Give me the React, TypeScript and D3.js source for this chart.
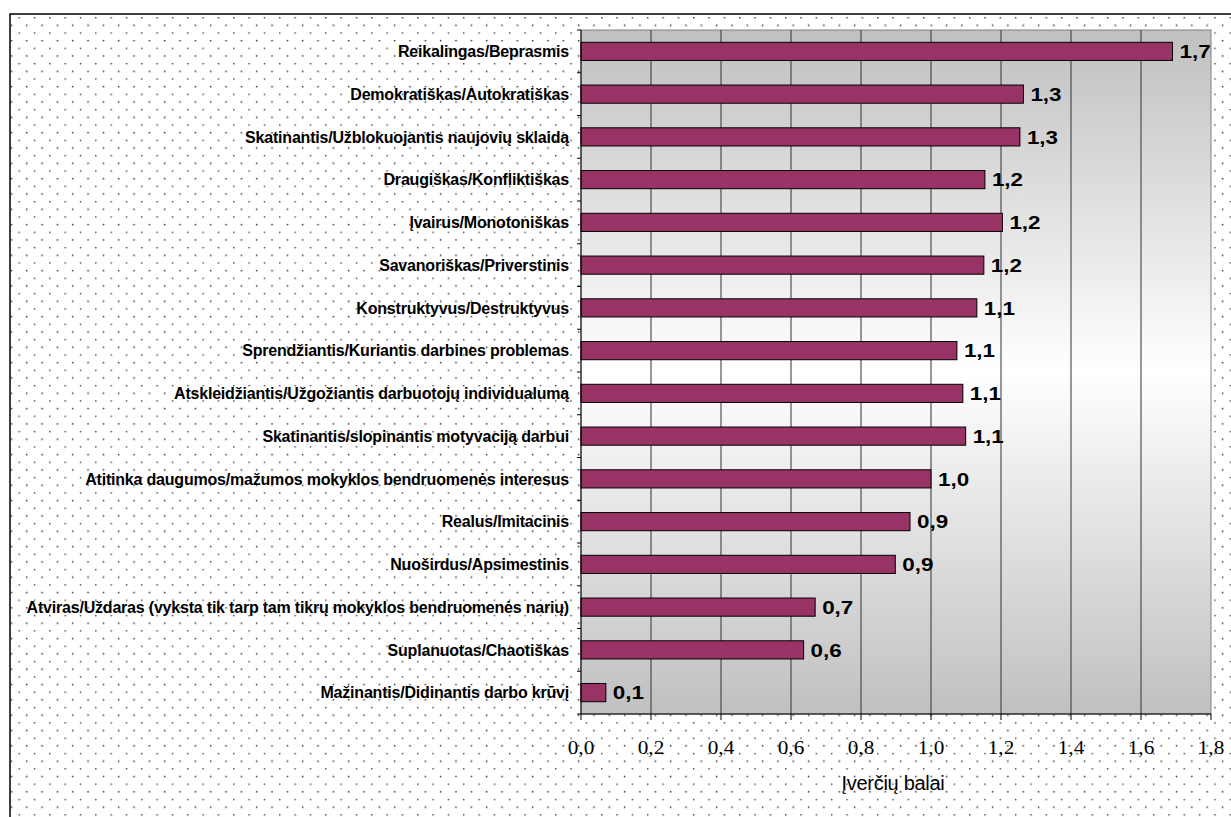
import React from "react";
import * as d3 from "d3";

const categories = [
  "Reikalingas/Beprasmis",
  "Demokratiškas/Autokratiškas",
  "Skatinantis/Užblokuojantis naujovių sklaidą",
  "Draugiškas/Konfliktiškas",
  "Įvairus/Monotoniškas",
  "Savanoriškas/Priverstinis",
  "Konstruktyvus/Destruktyvus",
  "Sprendžiantis/Kuriantis darbines problemas",
  "Atskleidžiantis/Užgožiantis darbuotojų individualumą",
  "Skatinantis/slopinantis motyvaciją darbui",
  "Atitinka daugumos/mažumos mokyklos bendruomenės interesus",
  "Realus/Imitacinis",
  "Nuoširdus/Apsimestinis",
  "Atviras/Uždaras (vyksta tik tarp tam tikrų mokyklos bendruomenės narių)",
  "Suplanuotas/Chaotiškas",
  "Mažinantis/Didinantis darbo krūvį",
];
const values = [1.69, 1.264, 1.254, 1.154, 1.204, 1.151, 1.131, 1.074, 1.091, 1.099, 1.0, 0.94, 0.898, 0.669, 0.636, 0.071];
const valueLabels = ["1,7", "1,3", "1,3", "1,2", "1,2", "1,2", "1,1", "1,1", "1,1", "1,1", "1,0", "0,9", "0,9", "0,7", "0,6", "0,1"];
const xTicks = [0, 0.2, 0.4, 0.6, 0.8, 1.0, 1.2, 1.4, 1.6, 1.8];
const axisTitle = "Įverčių balai";

const W = 1231;
const H = 817;
const plot = { left: 581, right: 1211, top: 30, bottom: 714 };
const SX = 1.18; // horizontal stretch of the reference's text

export default function App() {
  const x = d3.scaleLinear().domain([0, 1.8]).range([plot.left, plot.right]);
  const y = d3
    .scaleBand<string>()
    .domain(categories)
    .range([plot.top, plot.bottom])
    .paddingInner(0.575)
    .paddingOuter(0.2875);
  const band = (plot.bottom - plot.top) / categories.length;
  const fmt = (v: number) => d3.format(".1f")(v).replace(".", ",");

  return (
    <svg
      width={W}
      height={H}
      style={{ position: "absolute", left: 0, top: 0, display: "block" }}
    >
      <defs>
        <pattern
          id="dots"
          patternUnits="userSpaceOnUse"
          x={18.5}
          y={17}
          width={15.33}
          height={15.33}
        >
          <rect x={0} y={0} width={15.33} height={15.33} fill="#ffffff" />
          <circle cx={0.6} cy={0.6} r={0.85} fill="#3a3a3a" />
          <circle cx={8.27} cy={8.27} r={0.85} fill="#3a3a3a" />
        </pattern>
        <linearGradient id="bg" x1="0" y1="0" x2="0" y2="1">
          <stop offset="0" stopColor="#c0c0c0" />
          <stop offset="0.5" stopColor="#ffffff" />
          <stop offset="1" stopColor="#c0c0c0" />
        </linearGradient>
      </defs>

      <rect x={0} y={0} width={W} height={H} fill="#ffffff" />
      <rect x={10} y={14} width={W + 20} height={H + 20} fill="url(#dots)" stroke="#000" strokeWidth={1.5} />

      {/* plot area */}
      <rect
        x={plot.left}
        y={plot.top}
        width={plot.right - plot.left}
        height={plot.bottom - plot.top}
        fill="url(#bg)"
        stroke="#808080"
        strokeWidth={1}
      />

      {/* gridlines */}
      {xTicks.slice(1, -1).map((t) => (
        <line
          key={"g" + t}
          x1={x(t)}
          x2={x(t)}
          y1={plot.top}
          y2={plot.bottom}
          stroke="#333"
          strokeWidth={1}
        />
      ))}

      {/* bars */}
      {categories.map((c, i) => (
        <rect
          key={"b" + i}
          x={x(0)}
          y={y(c)!}
          width={x(values[i]) - x(0)}
          height={y.bandwidth()}
          fill="#993366"
          stroke="#000"
          strokeWidth={1}
        />
      ))}

      {/* value labels */}
      {categories.map((c, i) => (
        <text
          key={"v" + i}
          transform={`translate(${x(values[i]) + 7},${y(c)! + y.bandwidth() / 2}) scale(${SX},1)`}
          dy="0.36em"
          fontFamily="Arial, 'Liberation Sans', sans-serif"
          fontWeight="bold"
          fontSize={19}
          fill="#000"
        >
          {valueLabels[i] ?? fmt(values[i])}
        </text>
      ))}

      {/* left axis */}
      <line x1={plot.left} x2={plot.left} y1={plot.top} y2={plot.bottom} stroke="#000" strokeWidth={1} />
      {d3.range(categories.length + 1).map((k) => (
        <line
          key={"lt" + k}
          x1={plot.left - 4}
          x2={plot.left}
          y1={plot.top + k * band}
          y2={plot.top + k * band}
          stroke="#000"
          strokeWidth={1}
        />
      ))}
      {categories.map((c, i) => (
        <text
          key={"c" + i}
          x={plot.left - 12}
          y={y(c)! + y.bandwidth() / 2}
          dy="0.36em"
          textAnchor="end"
          fontFamily="Arial, 'Liberation Sans', sans-serif"
          fontWeight="bold"
          fontSize={16}
          letterSpacing={-0.2}
          fill="#000"
        >
          {c}
        </text>
      ))}

      {/* bottom axis */}
      <line x1={plot.left} x2={plot.right} y1={plot.bottom} y2={plot.bottom} stroke="#000" strokeWidth={1} />
      {xTicks.map((t) => (
        <g key={"xt" + t}>
          <line x1={x(t)} x2={x(t)} y1={plot.bottom} y2={plot.bottom + 6} stroke="#000" strokeWidth={1} />
          <text
            transform={`translate(${x(t)},754) scale(${SX},1)`}
            textAnchor="middle"
            fontFamily="'Times New Roman', 'Liberation Serif', serif"
            fontSize={18}
            fill="#000"
          >
            {fmt(t)}
          </text>
        </g>
      ))}
      <text
        x={(plot.left + plot.right) / 2 - 3}
        y={790}
        textAnchor="middle"
        fontFamily="Arial, 'Liberation Sans', sans-serif"
        fontSize={20}
        letterSpacing={-0.3}
        fill="#000"
      >
        {axisTitle}
      </text>
    </svg>
  );
}
